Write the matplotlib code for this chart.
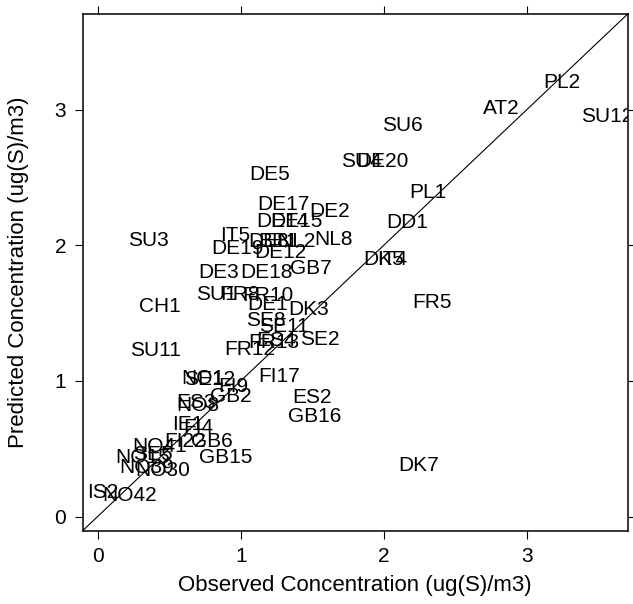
import numpy as np
import matplotlib.pyplot as plt

plt.rcParams['font.family'] = ['Liberation Sans', 'DejaVu Sans']

# station codes with observed / predicted sulphur concentration
sites = ['PL2', 'AT2', 'SU12', 'SU6', 'SU4', 'DE20', 'DE5', 'PL1',
         'DE17', 'DE2', 'DE14', 'DE15', 'DD1', 'IT5', 'DE8', 'BE1',
         'NL2', 'NL8', 'SU3', 'DE19', 'DE12', 'DK5', 'IT4', 'DE3',
         'DE18', 'GB7', 'SU1', 'FR8', 'FR10', 'FR5', 'DE1', 'CH1',
         'DK3', 'SE8', 'SE11', 'SE2', 'FR13', 'ES4', 'FR12', 'SU11',
         'FI17', 'NO1', 'SE12', 'FI9', 'GB2', 'ES2', 'ES3', 'NO8',
         'GB16', 'IE1', 'FI4', 'FI22', 'GB6', 'NO41', 'GB15', 'NO15',
         'SE5', 'NO39', 'NO30', 'DK7', 'IS2', 'NO42']
observed = [3.242, 2.822, 3.564, 2.129, 1.843, 1.989, 1.199, 2.311,
            1.297, 1.619, 1.290, 1.388, 2.164, 0.961, 1.192, 1.262,
            1.388, 1.647, 0.352, 0.975, 1.276, 1.996, 2.059, 0.849,
            1.178, 1.493, 0.828, 0.996, 1.192, 2.339, 1.185, 0.436,
            1.472, 1.178, 1.304, 1.556, 1.234, 1.248, 1.066, 0.401,
            1.269, 0.737, 0.786, 0.947, 0.933, 1.500, 0.688, 0.702,
            1.514, 0.632, 0.702, 0.611, 0.800, 0.436, 0.898, 0.317,
            0.387, 0.345, 0.457, 2.241, 0.037, 0.226]
predicted = [3.202, 3.009, 2.950, 2.884, 2.618, 2.618, 2.522, 2.389,
             2.300, 2.249, 2.175, 2.175, 2.168, 2.071, 2.027, 2.027,
             2.027, 2.041, 2.034, 1.976, 1.946, 1.894, 1.894, 1.798,
             1.798, 1.828, 1.636, 1.636, 1.628, 1.577, 1.562, 1.547,
             1.525, 1.444, 1.399, 1.303, 1.281, 1.296, 1.230, 1.223,
             1.030, 1.015, 1.007, 0.956, 0.882, 0.875, 0.838, 0.816,
             0.735, 0.676, 0.654, 0.550, 0.550, 0.513, 0.439, 0.432,
             0.454, 0.358, 0.343, 0.380, 0.181, 0.158]

ticks = [0, 1, 2, 3]

fig = plt.figure(figsize=(6.33, 6.04), dpi=100)
ax = fig.add_axes([0.1307, 0.1214, 0.861, 0.8555])

# same range on both axes, padded 4% like R's default
lo = min(min(observed), min(predicted))
hi = max(max(observed), max(predicted))
pad = 0.04 * (hi - lo)
lim = (lo - pad, hi + pad)
ax.set_xlim(lim)
ax.set_ylim(lim)

for s, xo, yp in zip(sites, observed, predicted):
    ax.text(xo, yp, s, ha='center', va='center', fontsize=15, clip_on=True)

ax.axline((0, 0), slope=1, color='black', lw=0.8)

ax.set_xticks(ticks)
ax.set_yticks(ticks)
ax.tick_params(direction='out', length=6, width=0.8, labelsize=15,
               top=True, right=True, pad=6)
for sp in ax.spines.values():
    sp.set_linewidth(1.1)

ax.set_xlabel('Observed Concentration (ug(S)/m3)', fontsize=16, labelpad=6)
ax.set_ylabel('Predicted Concentration (ug(S)/m3)', fontsize=16, labelpad=18)

fig.savefig('out.png', dpi=100)
